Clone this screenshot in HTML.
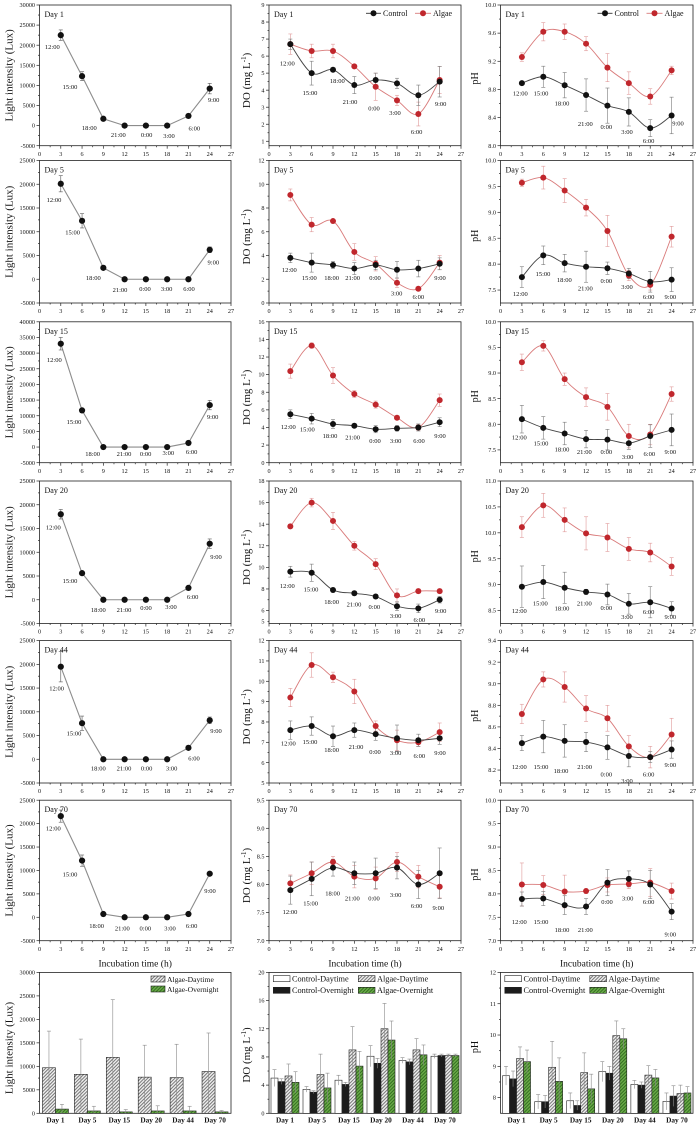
<!DOCTYPE html>
<html><head><meta charset="utf-8">
<style>
html,body{margin:0;padding:0;background:#fff;}
svg{display:block}
text{font-family:"Liberation Serif",serif;fill:#111}
.yt{font-size:6.2px;text-anchor:end}
.xt{font-size:6.2px;text-anchor:middle}
.tl{font-size:6.5px;text-anchor:middle}
.day{font-size:8px}
.lab{font-size:11px;text-anchor:middle}
.lab2{font-size:10px;text-anchor:middle}
.xlab{font-size:9.5px;text-anchor:middle}
.leg{font-size:8px}
.bl{font-size:7.6px}
.bl2{font-size:8.3px}
.cat{font-size:7.3px;font-weight:bold;text-anchor:middle}
</style></head><body>
<svg id="s" xmlns="http://www.w3.org/2000/svg" width="697" height="1127" viewBox="0 0 697 1127">
<defs>
<pattern id="hg" width="2.4" height="2.4" patternUnits="userSpaceOnUse" patternTransform="rotate(45)"><rect width="2.4" height="2.4" fill="#f0f0f0"/><rect width="1" height="2.4" fill="#777"/></pattern>
<pattern id="hgr" width="2.4" height="2.4" patternUnits="userSpaceOnUse" patternTransform="rotate(45)"><rect width="2.4" height="2.4" fill="#6aaa48"/><rect width="0.9" height="2.4" fill="#2f6a1e"/></pattern>
</defs>
<rect width="697" height="1127" fill="#fff"/>
<g id="geo"></g>

<!-- LEFT COLUMN -->
<g id="L1"><text class="day">Day 1</text>
<text class="yt">-5000</text><text class="yt">0</text><text class="yt">5000</text><text class="yt">10000</text><text class="yt">15000</text><text class="yt">20000</text><text class="yt">25000</text><text class="yt">30000</text>
<text class="xt">0</text><text class="xt">3</text><text class="xt">6</text><text class="xt">9</text><text class="xt">12</text><text class="xt">15</text><text class="xt">18</text><text class="xt">21</text><text class="xt">24</text><text class="xt">27</text>
<text class="tl">12:00</text><text class="tl">15:00</text><text class="tl">18:00</text><text class="tl">21:00</text><text class="tl">0:00</text><text class="tl">3:00</text><text class="tl">6:00</text><text class="tl">9:00</text></g>

<g id="L2"><text class="day">Day 5</text>
<text class="yt">-5000</text><text class="yt">0</text><text class="yt">5000</text><text class="yt">10000</text><text class="yt">15000</text><text class="yt">20000</text><text class="yt">25000</text>
<text class="xt">0</text><text class="xt">3</text><text class="xt">6</text><text class="xt">9</text><text class="xt">12</text><text class="xt">15</text><text class="xt">18</text><text class="xt">21</text><text class="xt">24</text><text class="xt">27</text>
<text class="tl">12:00</text><text class="tl">15:00</text><text class="tl">18:00</text><text class="tl">21:00</text><text class="tl">0:00</text><text class="tl">3:00</text><text class="tl">6:00</text><text class="tl">9:00</text></g>

<g id="L3"><text class="day">Day 15</text>
<text class="yt">-5000</text><text class="yt">0</text><text class="yt">5000</text><text class="yt">10000</text><text class="yt">15000</text><text class="yt">20000</text><text class="yt">25000</text><text class="yt">30000</text><text class="yt">35000</text><text class="yt">40000</text>
<text class="xt">0</text><text class="xt">3</text><text class="xt">6</text><text class="xt">9</text><text class="xt">12</text><text class="xt">15</text><text class="xt">18</text><text class="xt">21</text><text class="xt">24</text><text class="xt">27</text>
<text class="tl">12:00</text><text class="tl">15:00</text><text class="tl">18:00</text><text class="tl">21:00</text><text class="tl">0:00</text><text class="tl">3:00</text><text class="tl">6:00</text><text class="tl">9:00</text></g>

<g id="L4"><text class="day">Day 20</text>
<text class="yt">-5000</text><text class="yt">0</text><text class="yt">5000</text><text class="yt">10000</text><text class="yt">15000</text><text class="yt">20000</text><text class="yt">25000</text>
<text class="xt">0</text><text class="xt">3</text><text class="xt">6</text><text class="xt">9</text><text class="xt">12</text><text class="xt">15</text><text class="xt">18</text><text class="xt">21</text><text class="xt">24</text><text class="xt">27</text>
<text class="tl">12:00</text><text class="tl">15:00</text><text class="tl">18:00</text><text class="tl">21:00</text><text class="tl">0:00</text><text class="tl">3:00</text><text class="tl">6:00</text><text class="tl">9:00</text></g>

<g id="L5"><text class="day">Day 44</text>
<text class="yt">-5000</text><text class="yt">0</text><text class="yt">5000</text><text class="yt">10000</text><text class="yt">15000</text><text class="yt">20000</text><text class="yt">25000</text>
<text class="xt">0</text><text class="xt">3</text><text class="xt">6</text><text class="xt">9</text><text class="xt">12</text><text class="xt">15</text><text class="xt">18</text><text class="xt">21</text><text class="xt">24</text><text class="xt">27</text>
<text class="tl">12:00</text><text class="tl">15:00</text><text class="tl">18:00</text><text class="tl">21:00</text><text class="tl">0:00</text><text class="tl">3:00</text><text class="tl">6:00</text><text class="tl">9:00</text></g>

<g id="L6"><text class="day">Day 70</text>
<text class="yt">-5000</text><text class="yt">0</text><text class="yt">5000</text><text class="yt">10000</text><text class="yt">15000</text><text class="yt">20000</text><text class="yt">25000</text>
<text class="xt">0</text><text class="xt">3</text><text class="xt">6</text><text class="xt">9</text><text class="xt">12</text><text class="xt">15</text><text class="xt">18</text><text class="xt">21</text><text class="xt">24</text><text class="xt">27</text>
<text class="tl">12:00</text><text class="tl">15:00</text><text class="tl">18:00</text><text class="tl">21:00</text><text class="tl">0:00</text><text class="tl">3:00</text><text class="tl">6:00</text><text class="tl">9:00</text></g>

<g id="LB">
<text class="yt">0</text><text class="yt">5000</text><text class="yt">10000</text><text class="yt">15000</text><text class="yt">20000</text><text class="yt">25000</text><text class="yt">30000</text>
<text class="cat">Day 1</text><text class="cat">Day 5</text><text class="cat">Day 15</text><text class="cat">Day 20</text><text class="cat">Day 44</text><text class="cat">Day 70</text></g>

<!-- MIDDLE COLUMN -->
<g id="M1"><text class="day">Day 1</text>
<text class="yt">1</text><text class="yt">2</text><text class="yt">3</text><text class="yt">4</text><text class="yt">5</text><text class="yt">6</text><text class="yt">7</text><text class="yt">8</text><text class="yt">9</text>
<text class="xt">0</text><text class="xt">3</text><text class="xt">6</text><text class="xt">9</text><text class="xt">12</text><text class="xt">15</text><text class="xt">18</text><text class="xt">21</text><text class="xt">24</text><text class="xt">27</text>
<text class="tl">12:00</text><text class="tl">15:00</text><text class="tl">18:00</text><text class="tl">21:00</text><text class="tl">0:00</text><text class="tl">3:00</text><text class="tl">6:00</text><text class="tl">9:00</text></g>

<g id="M2"><text class="day">Day 5</text>
<text class="yt">0</text><text class="yt">2</text><text class="yt">4</text><text class="yt">6</text><text class="yt">8</text><text class="yt">10</text><text class="yt">12</text>
<text class="xt">0</text><text class="xt">3</text><text class="xt">6</text><text class="xt">9</text><text class="xt">12</text><text class="xt">15</text><text class="xt">18</text><text class="xt">21</text><text class="xt">24</text><text class="xt">27</text>
<text class="tl">12:00</text><text class="tl">15:00</text><text class="tl">18:00</text><text class="tl">21:00</text><text class="tl">0:00</text><text class="tl">3:00</text><text class="tl">6:00</text><text class="tl">9:00</text></g>

<g id="M3"><text class="day">Day 15</text>
<text class="yt">0</text><text class="yt">2</text><text class="yt">4</text><text class="yt">6</text><text class="yt">8</text><text class="yt">10</text><text class="yt">12</text><text class="yt">14</text><text class="yt">16</text>
<text class="xt">0</text><text class="xt">3</text><text class="xt">6</text><text class="xt">9</text><text class="xt">12</text><text class="xt">15</text><text class="xt">18</text><text class="xt">21</text><text class="xt">24</text><text class="xt">27</text>
<text class="tl">12:00</text><text class="tl">15:00</text><text class="tl">18:00</text><text class="tl">21:00</text><text class="tl">0:00</text><text class="tl">3:00</text><text class="tl">6:00</text><text class="tl">9:00</text></g>

<g id="M4"><text class="day">Day 20</text>
<text class="yt">5</text><text class="yt">6</text><text class="yt">8</text><text class="yt">10</text><text class="yt">12</text><text class="yt">14</text><text class="yt">16</text><text class="yt">18</text>
<text class="xt">0</text><text class="xt">3</text><text class="xt">6</text><text class="xt">9</text><text class="xt">12</text><text class="xt">15</text><text class="xt">18</text><text class="xt">21</text><text class="xt">24</text><text class="xt">27</text>
<text class="tl">12:00</text><text class="tl">15:00</text><text class="tl">18:00</text><text class="tl">21:00</text><text class="tl">0:00</text><text class="tl">3:00</text><text class="tl">6:00</text><text class="tl">9:00</text></g>

<g id="M5"><text class="day">Day 44</text>
<text class="yt">5</text><text class="yt">6</text><text class="yt">7</text><text class="yt">8</text><text class="yt">9</text><text class="yt">10</text><text class="yt">11</text><text class="yt">12</text>
<text class="xt">0</text><text class="xt">3</text><text class="xt">6</text><text class="xt">9</text><text class="xt">12</text><text class="xt">15</text><text class="xt">18</text><text class="xt">21</text><text class="xt">24</text><text class="xt">27</text>
<text class="tl">12:00</text><text class="tl">15:00</text><text class="tl">18:00</text><text class="tl">21:00</text><text class="tl">0:00</text><text class="tl">3:00</text><text class="tl">6:00</text><text class="tl">9:00</text></g>

<g id="M6"><text class="day">Day 70</text>
<text class="yt">7.0</text><text class="yt">7.5</text><text class="yt">8.0</text><text class="yt">8.5</text><text class="yt">9.0</text><text class="yt">9.5</text>
<text class="xt">0</text><text class="xt">3</text><text class="xt">6</text><text class="xt">9</text><text class="xt">12</text><text class="xt">15</text><text class="xt">18</text><text class="xt">21</text><text class="xt">24</text><text class="xt">27</text>
<text class="tl">12:00</text><text class="tl">15:00</text><text class="tl">18:00</text><text class="tl">21:00</text><text class="tl">0:00</text><text class="tl">3:00</text><text class="tl">6:00</text><text class="tl">9:00</text></g>

<g id="MB">
<text class="yt">0</text><text class="yt">4</text><text class="yt">8</text><text class="yt">12</text><text class="yt">16</text><text class="yt">20</text>
<text class="cat">Day 1</text><text class="cat">Day 5</text><text class="cat">Day 15</text><text class="cat">Day 20</text><text class="cat">Day 44</text><text class="cat">Day 70</text></g>

<!-- RIGHT COLUMN -->
<g id="R1"><text class="day">Day 1</text>
<text class="yt">8.0</text><text class="yt">8.4</text><text class="yt">8.8</text><text class="yt">9.2</text><text class="yt">9.6</text><text class="yt">10.0</text>
<text class="xt">0</text><text class="xt">3</text><text class="xt">6</text><text class="xt">9</text><text class="xt">12</text><text class="xt">15</text><text class="xt">18</text><text class="xt">21</text><text class="xt">24</text><text class="xt">27</text>
<text class="tl">12:00</text><text class="tl">15:00</text><text class="tl">18:00</text><text class="tl">21:00</text><text class="tl">0:00</text><text class="tl">3:00</text><text class="tl">6:00</text><text class="tl">9:00</text></g>

<g id="R2"><text class="day">Day 5</text>
<text class="yt">7.5</text><text class="yt">8.0</text><text class="yt">8.5</text><text class="yt">9.0</text><text class="yt">9.5</text><text class="yt">10.0</text>
<text class="xt">0</text><text class="xt">3</text><text class="xt">6</text><text class="xt">9</text><text class="xt">12</text><text class="xt">15</text><text class="xt">18</text><text class="xt">21</text><text class="xt">24</text><text class="xt">27</text>
<text class="tl">12:00</text><text class="tl">15:00</text><text class="tl">18:00</text><text class="tl">21:00</text><text class="tl">0:00</text><text class="tl">3:00</text><text class="tl">6:00</text><text class="tl">9:00</text></g>

<g id="R3"><text class="day">Day 15</text>
<text class="yt">7.5</text><text class="yt">8.0</text><text class="yt">8.5</text><text class="yt">9.0</text><text class="yt">9.5</text><text class="yt">10.0</text>
<text class="xt">0</text><text class="xt">3</text><text class="xt">6</text><text class="xt">9</text><text class="xt">12</text><text class="xt">15</text><text class="xt">18</text><text class="xt">21</text><text class="xt">24</text><text class="xt">27</text>
<text class="tl">12:00</text><text class="tl">15:00</text><text class="tl">18:00</text><text class="tl">21:00</text><text class="tl">0:00</text><text class="tl">3:00</text><text class="tl">6:00</text><text class="tl">9:00</text></g>

<g id="R4"><text class="day">Day 20</text>
<text class="yt">8.5</text><text class="yt">9.0</text><text class="yt">9.5</text><text class="yt">10.0</text><text class="yt">10.5</text><text class="yt">11.0</text>
<text class="xt">0</text><text class="xt">3</text><text class="xt">6</text><text class="xt">9</text><text class="xt">12</text><text class="xt">15</text><text class="xt">18</text><text class="xt">21</text><text class="xt">24</text><text class="xt">27</text>
<text class="tl">12:00</text><text class="tl">15:00</text><text class="tl">18:00</text><text class="tl">21:00</text><text class="tl">0:00</text><text class="tl">3:00</text><text class="tl">6:00</text><text class="tl">9:00</text></g>

<g id="R5"><text class="day">Day 44</text>
<text class="yt">8.2</text><text class="yt">8.4</text><text class="yt">8.6</text><text class="yt">8.8</text><text class="yt">9.0</text><text class="yt">9.2</text><text class="yt">9.4</text>
<text class="xt">0</text><text class="xt">3</text><text class="xt">6</text><text class="xt">9</text><text class="xt">12</text><text class="xt">15</text><text class="xt">18</text><text class="xt">21</text><text class="xt">24</text><text class="xt">27</text>
<text class="tl">12:00</text><text class="tl">15:00</text><text class="tl">18:00</text><text class="tl">21:00</text><text class="tl">0:00</text><text class="tl">3:00</text><text class="tl">6:00</text><text class="tl">9:00</text></g>

<g id="R6"><text class="day">Day 70</text>
<text class="yt">7.0</text><text class="yt">7.5</text><text class="yt">8.0</text><text class="yt">8.5</text><text class="yt">9.0</text><text class="yt">9.5</text><text class="yt">10.0</text>
<text class="xt">0</text><text class="xt">3</text><text class="xt">6</text><text class="xt">9</text><text class="xt">12</text><text class="xt">15</text><text class="xt">18</text><text class="xt">21</text><text class="xt">24</text><text class="xt">27</text>
<text class="tl">12:00</text><text class="tl">15:00</text><text class="tl">18:00</text><text class="tl">21:00</text><text class="tl">0:00</text><text class="tl">3:00</text><text class="tl">6:00</text><text class="tl">9:00</text></g>

<g id="RB">
<text class="yt">8</text><text class="yt">9</text><text class="yt">10</text><text class="yt">11</text><text class="yt">12</text>
<text class="cat">Day 1</text><text class="cat">Day 5</text><text class="cat">Day 15</text><text class="cat">Day 20</text><text class="cat">Day 44</text><text class="cat">Day 70</text></g>

<!-- Y axis titles -->
<text class="lab" transform="translate(12.5,75.4) rotate(-90)">Light intensity (Lux)</text>
<text class="lab" transform="translate(12.5,231.8) rotate(-90)">Light intensity (Lux)</text>
<text class="lab" transform="translate(12.5,392.3) rotate(-90)">Light intensity (Lux)</text>
<text class="lab" transform="translate(12.5,552.3) rotate(-90)">Light intensity (Lux)</text>
<text class="lab" transform="translate(12.5,711.8) rotate(-90)">Light intensity (Lux)</text>
<text class="lab" transform="translate(12.5,870.5) rotate(-90)">Light intensity (Lux)</text>
<text class="lab" transform="translate(12.5,1048) rotate(-90)">Light intensity (Lux)</text>

<text class="lab" transform="translate(250,80.4) rotate(-90)">DO (mg L<tspan font-size="7" dy="-4">-1</tspan><tspan dy="4">)</tspan></text>
<text class="lab" transform="translate(250,236.8) rotate(-90)">DO (mg L<tspan font-size="7" dy="-4">-1</tspan><tspan dy="4">)</tspan></text>
<text class="lab" transform="translate(250,397.3) rotate(-90)">DO (mg L<tspan font-size="7" dy="-4">-1</tspan><tspan dy="4">)</tspan></text>
<text class="lab" transform="translate(250,557.3) rotate(-90)">DO (mg L<tspan font-size="7" dy="-4">-1</tspan><tspan dy="4">)</tspan></text>
<text class="lab" transform="translate(250,716.8) rotate(-90)">DO (mg L<tspan font-size="7" dy="-4">-1</tspan><tspan dy="4">)</tspan></text>
<text class="lab" transform="translate(250,875.5) rotate(-90)">DO (mg L<tspan font-size="7" dy="-4">-1</tspan><tspan dy="4">)</tspan></text>
<text class="lab" transform="translate(250,1055) rotate(-90)">DO (mg L<tspan font-size="7" dy="-4">-1</tspan><tspan dy="4">)</tspan></text>

<text class="lab2" transform="translate(478,78.4) rotate(-90)">pH</text>
<text class="lab2" transform="translate(478,235.8) rotate(-90)">pH</text>
<text class="lab2" transform="translate(478,396.3) rotate(-90)">pH</text>
<text class="lab2" transform="translate(478,556.3) rotate(-90)">pH</text>
<text class="lab2" transform="translate(478,715.8) rotate(-90)">pH</text>
<text class="lab2" transform="translate(478,874.5) rotate(-90)">pH</text>
<text class="lab2" transform="translate(478,1047) rotate(-90)">pH</text>

<!-- X axis titles -->
<text class="xlab" x="135.2" y="966.5">Incubation time (h)</text>
<text class="xlab" x="365" y="966.5">Incubation time (h)</text>
<text class="xlab" x="596.7" y="966.5">Incubation time (h)</text>

<!-- Row-1 legends -->
<line x1="366" y1="13.3" x2="381" y2="13.3" stroke="#333" stroke-width="0.9"/><circle cx="373.5" cy="13.3" r="3" fill="#111"/><text class="leg" x="383" y="16">Control</text>
<line x1="415" y1="13.3" x2="431" y2="13.3" stroke="#d97a7a" stroke-width="0.9"/><circle cx="423" cy="13.3" r="3" fill="#c0272d"/><text class="leg" x="433" y="16">Algae</text>
<line x1="597.5" y1="13.3" x2="612.5" y2="13.3" stroke="#333" stroke-width="0.9"/><circle cx="605" cy="13.3" r="3" fill="#111"/><text class="leg" x="614.5" y="16">Control</text>
<line x1="646.5" y1="13.3" x2="662.5" y2="13.3" stroke="#d97a7a" stroke-width="0.9"/><circle cx="654.5" cy="13.3" r="3" fill="#c0272d"/><text class="leg" x="664.5" y="16">Algae</text>

<!-- Bar legends -->
<rect x="151" y="976" width="14" height="6" fill="url(#hg)" stroke="#222" stroke-width="0.6"/><text class="bl" x="167" y="981.8">Algae-Daytime</text>
<rect x="151" y="986" width="14" height="6" fill="url(#hgr)" stroke="#222" stroke-width="0.6"/><text class="bl" x="167" y="991.8">Algae-Overnight</text>

<rect x="273.3" y="975.7" width="16.7" height="6" fill="#fff" stroke="#222" stroke-width="0.6"/><text class="bl2" x="292" y="981.6">Control-Daytime</text>
<rect x="273.3" y="987.3" width="16.7" height="6" fill="#1c1c1c" stroke="#222" stroke-width="0.6"/><text class="bl2" x="292" y="993.2">Control-Overnight</text>
<rect x="358.3" y="975.7" width="16.7" height="6" fill="url(#hg)" stroke="#222" stroke-width="0.6"/><text class="bl2" x="377" y="981.6">Algae-Daytime</text>
<rect x="358.3" y="987.3" width="16.7" height="6" fill="url(#hgr)" stroke="#222" stroke-width="0.6"/><text class="bl2" x="377" y="993.2">Algae-Overnight</text>

<rect x="504.8" y="975.7" width="16.7" height="6" fill="#fff" stroke="#222" stroke-width="0.6"/><text class="bl2" x="523.5" y="981.6">Control-Daytime</text>
<rect x="504.8" y="987.3" width="16.7" height="6" fill="#1c1c1c" stroke="#222" stroke-width="0.6"/><text class="bl2" x="523.5" y="993.2">Control-Overnight</text>
<rect x="589.8" y="975.7" width="16.7" height="6" fill="url(#hg)" stroke="#222" stroke-width="0.6"/><text class="bl2" x="608.5" y="981.6">Algae-Daytime</text>
<rect x="589.8" y="987.3" width="16.7" height="6" fill="url(#hgr)" stroke="#222" stroke-width="0.6"/><text class="bl2" x="608.5" y="993.2">Algae-Overnight</text>
</svg>

<script>
(function(){
const NS='http://www.w3.org/2000/svg';
const GEO=document.getElementById('geo');
function el(tag,a){const e=document.createElementNS(NS,tag);for(const k in a)e.setAttribute(k,a[k]);GEO.appendChild(e);return e;}
function ln(x1,y1,x2,y2,c,w){return el('line',{x1:x1,y1:y1,x2:x2,y2:y2,stroke:c||'#222','stroke-width':w||0.7});}
const COLS={L:[39.5,231],M:[269,461],R:[500.5,693]};
const ROWS=[[5,145.7],[160.5,303],[321.8,462.7],[481,623.5],[640.6,783],[800.2,940.7],[972.4,1113.3]];
const ZO={L:[[0,0],[0,150],[0,150],[0,475],[0,475],[0,795]],M:[[230,0],[230,150],[230,150],[230,475],[230,475],[230,795]],R:[[462,0],[462,150],[462,150],[462,475],[462,475],[462,795]]};

const P={
L1:{v:[30000,-5000],tk:[-5000,30000,5000],d:[[22500,1300],[12300,1100],[1700,0],[0,0],[0,0],[0,0],[2400,0],[9200,1300]],tl:[[157,140],[210,260],[268,383],[355,405],[440,405],[507,407],[583,385],[641,300]]},
L2:{v:[25000,-5000],tk:[-5000,25000,5000],d:[[20100,1700],[12300,1500],[2400,0],[0,0],[0,0],[0,0],[0,0],[6200,600]],tl:[[162,150],[218,247],[280,383],[360,420],[435,417],[500,417],[567,417],[640,337]]},
L3:{v:[40000,-5000],tk:[-5000,40000,5000],d:[[33000,2000],[11700,700],[0,0],[0,0],[0,0],[0,0],[1300,0],[13400,1500]],tl:[[163,630],[222,815],[278,912],[372,912],[437,912],[505,908],[575,905],[638,800]]},
L4:{v:[25000,-5000],tk:[-5000,25000,5000],d:[[18000,1000],[5600,0],[0,0],[0,0],[0,0],[0,0],[2500,300],[11800,1000]],tl:[[160,157],[210,318],[295,405],[372,405],[438,398],[513,396],[578,365],[648,245]]},
L5:{v:[25000,-5000],tk:[-5000,25000,5000],d:[[19500,3200],[7600,1500],[0,0],[0,0],[0,0],[0,0],[2400,0],[8200,700]],tl:[[170,640],[222,775],[295,880],[372,880],[440,880],[515,880],[582,850],[648,768]]},
L6:{v:[25000,-5000],tk:[-5000,25000,5000],d:[[21600,1300],[12100,1200],[700,0],[0,0],[0,0],[0,0],[700,0],[9300,0]],tl:[[160,100],[210,238],[290,393],[367,400],[436,400],[510,400],[575,393],[630,287]]},
M1:{v:[9,0.74],tk:[1,9,1],c:[6.7,5.0,5.2,4.3,4.6,4.4,3.7,4.5],ce:[0.3,0.7,0.1,0.5,0.4,0.3,0.6,0.9],a:[6.7,6.3,6.3,5.4,4.2,3.4,2.6,4.6],ae:[0.6,0.4,0.4,0.1,0.8,0.3,0.7,0.8],tl:[[172,190],[240,278],[322,242],[360,305],[432,325],[495,338],[560,395],[632,312]]},
M2:{v:[12,0],tk:[0,12,2],c:[3.8,3.4,3.2,2.9,3.2,2.8,2.9,3.3],ce:[0.4,0.8,0.3,0.5,0.4,0.7,0.7,0.5],a:[9.1,6.6,6.9,4.3,3.3,1.7,1.2,3.4],ae:[0.5,0.6,0.1,0.7,0.6,0.4,0.1,0.6],tl:[[178,360],[238,383],[305,383],[368,383],[435,383],[500,430],[565,440],[630,383]]},
M3:{v:[16,0],tk:[0,16,2],c:[5.5,5.0,4.4,4.2,3.8,3.9,4.0,4.6],ce:[0.5,0.6,0.5,0.1,0.4,0.3,0.4,0.5],a:[10.4,13.3,9.9,7.8,6.6,5.1,4.0,7.1],ae:[0.8,0.3,0.9,0.4,0.4,0.2,0.3,0.7],tl:[[175,830],[232,838],[300,858],[368,862],[435,872],[497,872],[567,872],[630,858]]},
M4:{v:[18,4.8],tk:[6,18,2],c:[9.6,9.5,7.9,7.6,7.3,6.4,6.2,7.0],ce:[0.5,0.8,0.2,0.2,0.2,0.4,0.4,0.3],a:[13.8,16.0,14.3,12.0,10.3,7.4,7.8,7.8],ae:[0.2,0.4,0.8,0.4,0.5,0.6,0.2,0.2],tl:[[172,333],[243,343],[305,380],[372,388],[433,395],[497,423],[568,435],[632,408]]},
M5:{v:[12,5],tk:[5,12,1],c:[7.6,7.8,7.3,7.6,7.4,7.2,7.1,7.2],ce:[0.45,0.45,0.5,0.35,0.3,0.65,0.3,0.3],a:[9.2,10.8,10.2,9.5,7.8,7.1,7.0,7.5],ae:[0.45,0.6,0.25,0.6,0.25,0.5,0.2,0.45],tl:[[175,805],[240,800],[305,825],[378,815],[435,830],[497,833],[568,843],[630,833]]},
M6:{v:[9.5,7],tk:[7,9.5,0.5],c:[7.9,8.1,8.3,8.2,8.2,8.3,8.0,8.2],ce:[0.25,0.3,0.15,0.2,0.27,0.2,0.25,0.45],a:[8.02,8.2,8.4,8.14,8.11,8.4,8.14,7.96],ae:[0.15,0.2,0.1,0.2,0.2,0.17,0.2,0.2],tl:[[180,350],[242,325],[308,295],[367,310],[432,310],[497,300],[560,333],[625,338]]},
R1:{v:[10,8],tk:[8,10,0.4],c:[8.89,8.98,8.86,8.72,8.57,8.48,8.25,8.43],ce:[0.02,0.15,0.18,0.23,0.25,0.2,0.12,0.26],a:[9.26,9.62,9.62,9.45,9.11,8.89,8.70,9.07],ae:[0.06,0.13,0.11,0.1,0.2,0.16,0.11,0.06],tl:[[175,280],[237,280],[300,310],[370,372],[433,380],[495,395],[560,422],[648,370]]},
R2:{v:[10,7.25],tk:[7.5,10,0.5],c:[7.75,8.17,8.02,7.95,7.92,7.82,7.66,7.70],ce:[0.2,0.18,0.17,0.3,0.12,0.1,0.2,0.23],a:[9.57,9.67,9.42,9.09,8.64,7.78,7.60,8.53],ae:[0.07,0.22,0.23,0.16,0.3,0.1,0.1,0.2],tl:[[175,432],[243,372],[307,390],[370,415],[433,392],[495,410],[560,440],[625,440]]},
R3:{v:[10,7.25],tk:[7.5,10,0.5],c:[8.10,7.93,7.82,7.71,7.70,7.63,7.77,7.89],ce:[0.27,0.22,0.22,0.17,0.2,0.12,0.22,0.31],a:[9.21,9.53,8.88,8.53,8.34,7.77,7.80,8.59],ae:[0.16,0.1,0.12,0.18,0.26,0.23,0.2,0.14],tl:[[172,862],[237,880],[300,898],[367,905],[433,905],[497,920],[562,912],[625,905]]},
R4:{v:[11,8.25],tk:[8.5,11,0.5],c:[8.96,9.05,8.94,8.86,8.81,8.63,8.66,8.54],ce:[0.4,0.32,0.3,0.05,0.2,0.2,0.3,0.13],a:[10.11,10.53,10.25,9.99,9.91,9.69,9.62,9.35],ae:[0.2,0.23,0.23,0.32,0.27,0.22,0.18,0.17],tl:[[172,408],[235,385],[300,400],[367,385],[433,398],[495,425],[560,410],[625,425]]},
R5:{v:[9.4,8.08],tk:[8.2,9.4,0.2],c:[8.45,8.51,8.47,8.46,8.41,8.33,8.32,8.39],ce:[0.07,0.15,0.15,0.09,0.11,0.1,0.05,0.08],a:[8.72,9.04,8.97,8.77,8.68,8.42,8.32,8.53],ae:[0.09,0.07,0.14,0.12,0.12,0.1,0.1,0.15],tl:[[172,875],[237,875],[297,888],[368,875],[433,898],[495,918],[560,898],[625,870]]},
R6:{v:[10,7],tk:[7,10,0.5],c:[7.89,7.90,7.76,7.73,8.24,8.32,8.20,7.62],ce:[0.15,0.15,0.2,0.17,0.28,0.17,0.3,0.17],a:[8.20,8.19,8.05,8.06,8.19,8.21,8.24,8.06],ae:[0.46,0.2,0.35,0.05,0.15,0.1,0.3,0.17],tl:[[172,380],[237,380],[300,405],[370,405],[435,320],[497,310],[560,320],[625,418]]},
LB:{v:[30000,0],tk:[0,30000,5000],bw:13,s:[
 {v:[9700,8300,11900,7700,7600,8900],e:[17500,15800,24200,14500,14700,17100],f:'url(#hg)'},
 {v:[900,500,300,500,500,300],e:[1900,1500,800,1600,1500,600],f:'url(#hgr)'}]},
MB:{v:[20,0],tk:[0,20,4],bw:7,s:[
 {v:[5.0,3.4,4.7,8.1,7.5,8.1],e:[6.2,3.8,5.4,9.6,7.9,8.4],f:'#fff'},
 {v:[4.5,3.0,4.1,7.1,7.3,8.2],e:[4.9,3.2,4.4,7.8,7.7,8.4],f:'#1c1c1c'},
 {v:[5.3,5.5,9.0,12.0,9.0,8.2],e:[7.0,8.4,12.3,15.6,10.6,8.4],f:'url(#hg)'},
 {v:[4.4,3.6,6.7,10.4,8.3,8.2],e:[5.9,5.7,8.8,13.1,9.7,8.4],f:'url(#hgr)'}]},
RB:{v:[12,7.5],tk:[8,12,1],bw:7,s:[
 {v:[8.7,7.87,7.9,8.83,8.42,7.88],e:[9.0,8.1,8.15,9.15,8.55,8.15],f:'#fff'},
 {v:[8.6,7.87,7.75,8.78,8.4,8.05],e:[8.85,8.07,7.9,9.0,8.5,8.38],f:'#1c1c1c'},
 {v:[9.25,8.97,8.8,9.98,8.72,8.13],e:[9.62,9.8,9.43,10.45,9.02,8.4],f:'url(#hg)'},
 {v:[9.15,8.52,8.28,9.88,8.63,8.15],e:[9.52,9.27,8.75,10.2,8.9,8.35],f:'url(#hgr)'}]}
};

function spline(p){
 let d='M'+p[0][0].toFixed(2)+','+p[0][1].toFixed(2);
 for(let i=0;i<p.length-1;i++){
  const p0=p[i-1]||p[i],p1=p[i],p2=p[i+1],p3=p[i+2]||p[i+1];
  const c1x=p1[0]+(p2[0]-p0[0])/6,c1y=p1[1]+(p2[1]-p0[1])/6;
  const c2x=p2[0]-(p3[0]-p1[0])/6,c2y=p2[1]-(p3[1]-p1[1])/6;
  d+=' C'+c1x.toFixed(2)+','+c1y.toFixed(2)+' '+c2x.toFixed(2)+','+c2y.toFixed(2)+' '+p2[0].toFixed(2)+','+p2[1].toFixed(2);
 }
 return d;
}
function ebar(x,yTop,yBot,col){ln(x,yTop,x,yBot,col,0.6);ln(x-2,yTop,x+2,yTop,col,0.6);ln(x-2,yBot,x+2,yBot,col,0.6);}

for(const id in P){
 const cfg=P[id];const c=id[0];const isBar=id[1]==='B';
 const r=isBar?6:parseInt(id.slice(1))-1;
 const [x0,x1]=COLS[c];const [top,bot]=ROWS[r];
 const vmax=cfg.v[0],vmin=cfg.v[1];
 const X=t=>x0+(x1-x0)*t/27;
 const Y=v=>top+(bot-top)*(vmax-v)/(vmax-vmin);
 // frame
 el('rect',{x:x0,y:top,width:x1-x0,height:bot-top,fill:'none',stroke:'#222','stroke-width':0.8});
 const [s,e,st]=cfg.tk;const n=Math.round((e-s)/st);
 for(let i=0;i<=n;i++){const y=Y(s+i*st);ln(x0-3,y,x0,y);}
 for(let i=-1;i<=n;i++){const y=Y(s+(i+0.5)*st);if(y>top+0.5&&y<bot-0.5)ln(x0-1.5,y,x0,y);}
 const g=document.getElementById(id);
 g.querySelectorAll('.yt').forEach(t=>{t.setAttribute('x',x0-4.5);t.setAttribute('y',(Y(parseFloat(t.textContent))+2.1).toFixed(2));});
 if(isBar){
  const cw=(x1-x0)/6;const ns=cfg.s.length;const gw=ns*cfg.bw;
  for(let i=0;i<6;i++){
   const cx=x0+cw*(i+0.5);
   cfg.s.forEach((sr,j)=>{const bx=cx-gw/2+j*cfg.bw;const y=Y(sr.v[i]);
     el('rect',{x:bx,y:y,width:cfg.bw,height:bot-y,fill:sr.f,stroke:'#222','stroke-width':0.6});});
   cfg.s.forEach((sr,j)=>{const mx=cx-gw/2+j*cfg.bw+cfg.bw/2;const yt=Y(sr.e[i]);const yb=Math.min(Y(2*sr.v[i]-sr.e[i]),bot);
     ln(mx,yt,mx,yb,'#8a8a8a',0.6);ln(mx-2,yt,mx+2,yt,'#8a8a8a',0.6);});
  }
  g.querySelectorAll('.cat').forEach((t,i)=>{t.setAttribute('x',(x0+cw*(i+0.5)).toFixed(2));t.setAttribute('y',1122.5);});
  continue;
 }
 // x ticks
 for(let i=0;i<=9;i++){const x=X(3*i);ln(x,bot,x,bot+3);}
 for(let i=0;i<9;i++){const x=X(1.5+3*i);ln(x,bot,x,bot+1.5);}
 g.querySelectorAll('.xt').forEach(t=>{t.setAttribute('x',X(parseFloat(t.textContent)).toFixed(2));t.setAttribute('y',(bot+10.2).toFixed(2));});
 const d=g.querySelector('.day');d.setAttribute('x',x0+5);d.setAttribute('y',top+12);
 const zo=ZO[c][r];
 g.querySelectorAll('.tl').forEach((t,i)=>{t.setAttribute('x',(zo[0]+cfg.tl[i][0]/3).toFixed(2));t.setAttribute('y',(zo[1]+cfg.tl[i][1]/3+2.2).toFixed(2));});
 if(c==='L'){
  const pts=cfg.d.map((p,i)=>[X(3+3*i),Y(p[0])]);
  el('polyline',{points:pts.map(p=>p[0].toFixed(2)+','+p[1].toFixed(2)).join(' '),fill:'none',stroke:'#8c8c8c','stroke-width':1.1});
  cfg.d.forEach((p,i)=>{if(p[1]>0){ebar(X(3+3*i),Y(p[0]+p[1]),Y(p[0]-p[1]),'#555');}});
  pts.forEach(p=>el('circle',{cx:p[0].toFixed(2),cy:p[1].toFixed(2),r:3.1,fill:'#111'}));
 } else {
  const pa=cfg.a.map((v,i)=>[X(3+3*i),Y(v)]);
  const pc=cfg.c.map((v,i)=>[X(3+3*i),Y(v)]);
  el('path',{d:spline(pa),fill:'none',stroke:'#d97a7a','stroke-width':0.9});
  el('path',{d:spline(pc),fill:'none',stroke:'#444','stroke-width':0.9});
  cfg.a.forEach((v,i)=>ebar(X(3+3*i),Y(v+cfg.ae[i]),Y(v-cfg.ae[i]),'#e09a9a'));
  cfg.c.forEach((v,i)=>ebar(X(3+3*i),Y(v+cfg.ce[i]),Y(v-cfg.ce[i]),'#7a7a7a'));
  pa.forEach(p=>el('circle',{cx:p[0].toFixed(2),cy:p[1].toFixed(2),r:3,fill:'#c0272d'}));
  pc.forEach(p=>el('circle',{cx:p[0].toFixed(2),cy:p[1].toFixed(2),r:3,fill:'#111'}));
 }
}
})();
</script>
</body></html>
